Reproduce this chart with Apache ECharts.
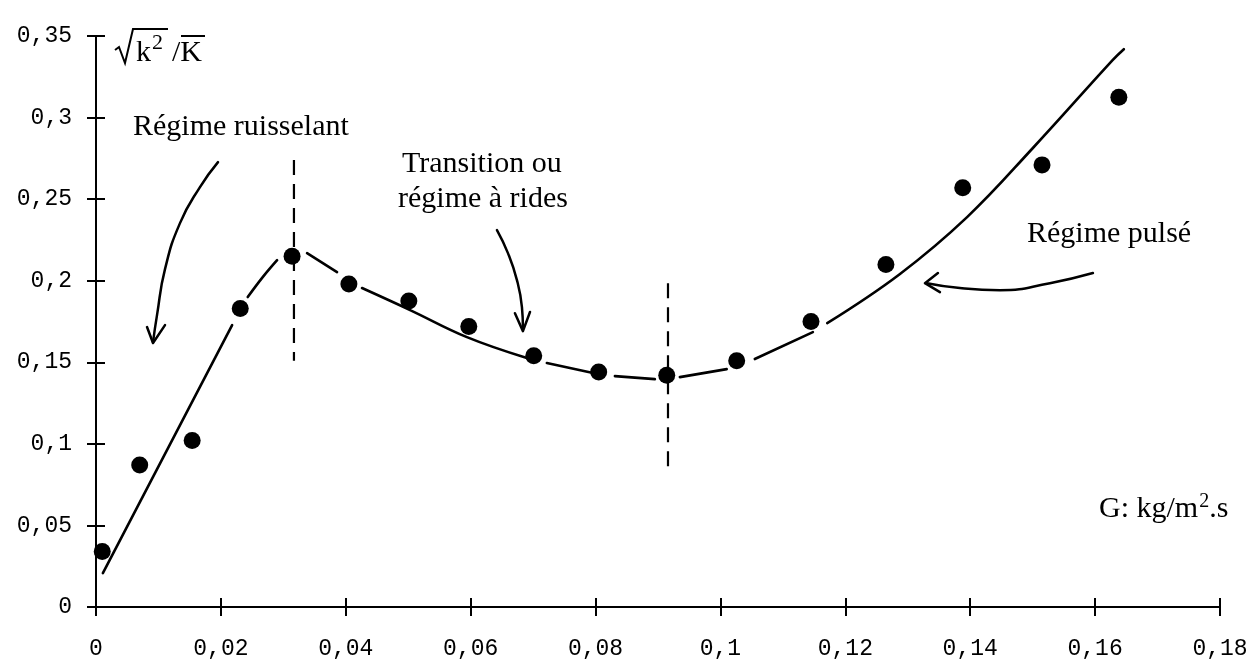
<!DOCTYPE html>
<html>
<head>
<meta charset="utf-8">
<script src="https://cdn.jsdelivr.net/npm/echarts@6/dist/echarts.min.js"></script>
<style>html,body{margin:0;padding:0;background:#fff}#c{width:1256px;height:667px}</style>
</head>
<body>
<div id="c"></div>
<script>
// ---- data ----
const xTickLabels = ['0','0,02','0,04','0,06','0,08','0,1','0,12','0,14','0,16','0,18'];
const yTickLabels = ['0','0,05','0,1','0,15','0,2','0,25','0,3','0,35'];

const gValues  = [0.001, 0.007, 0.0154, 0.0231, 0.0314, 0.0405, 0.0501, 0.0597, 0.0701, 0.0805, 0.0914, 0.1026, 0.1145, 0.1265, 0.1388, 0.1515, 0.1638];
const kValues  = [0.034, 0.087, 0.102, 0.183, 0.215, 0.198, 0.1875, 0.172, 0.154, 0.144, 0.142, 0.151, 0.175, 0.210, 0.257, 0.271, 0.3125];

// fitted curve, drawn in pieces (gaps as in the original drawing)
const curveSegA = [[0.0011,0.0208],[0.0218,0.1728]];
const curveSegB = [[0.0243,0.1900],[0.0267,0.2022],[0.0290,0.2126]];
const curveSegC = [[0.0338,0.2169],[0.0386,0.2053]];
const curveSegD = [[0.0426,0.1955],[0.0503,0.1820],[0.0594,0.1654],[0.0690,0.1526]];
const curveSegE = [[0.0722,0.1495],[0.0796,0.1434]];
const curveSegF = [[0.0831,0.1415],[0.0895,0.1397]];
const curveSegG = [[0.0935,0.1409],[0.1010,0.1458]];
const curveSegH = [[0.1055,0.1520],[0.1148,0.1685]];
const curveSegI = [[0.1171,0.1740],[0.1287,0.2040],[0.1395,0.2390],[0.1500,0.2812],[0.1628,0.3352],[0.1646,0.3419]];

// regime boundaries (dashed verticals)
const boundary1 = [[0.0317,0.274],[0.0317,0.151]];
const boundary2 = [[0.0916,0.1985],[0.0916,0.0827]];

// annotation arrows (data units)
const arrow1Path = [[0.01954,0.2727],[0.01665,0.2574],[0.01345,0.2353],[0.01105,0.2071],[0.00977,0.1789],[0.00913,0.1624]];
const arrow1Head = [[0.00817,0.1716],[0.00913,0.1618],[0.01105,0.1728]];
const arrow2Path = [[0.06421,0.2310],[0.06597,0.2169],[0.06741,0.2004],[0.06821,0.1838],[0.06837,0.1710]];
const arrow2Head = [[0.06709,0.1801],[0.06837,0.1691],[0.06950,0.1808]];
const arrow3Path = [[0.15965,0.2047],[0.15276,0.1985],[0.14476,0.1942],[0.13835,0.1955],[0.13307,0.1985]];
const arrow3Head = [[0.13483,0.2047],[0.13275,0.1985],[0.13515,0.1930]];

// ---- chart ----
const chart = echarts.init(document.getElementById('c'), null, {renderer:'canvas'});
const INK = '#000';
const serif = '"Liberation Serif","Times New Roman",serif';
const mono = '"Liberation Mono","DejaVu Sans Mono",monospace';

function lineSeries(data, opts) {
  return Object.assign({
    type:'line', data:data, symbol:'none', smooth:false, silent:true,
    lineStyle:{color:INK, width:2.5}, z:3, animation:false
  }, opts || {});
}

const curveSegments = [curveSegA,curveSegB,curveSegC,curveSegD,curveSegE,curveSegF,curveSegG,curveSegH,curveSegI];
const series = [];
curveSegments.forEach(s => series.push(lineSeries(s, {smooth:0.4, lineStyle:{color:INK,width:2.6,cap:'round'}})));
[boundary1, boundary2].forEach(s => series.push(lineSeries(s, {lineStyle:{color:INK,width:2.2,type:[15,9]}})));
[arrow1Path, arrow2Path, arrow3Path].forEach(s => series.push(lineSeries(s, {smooth:0.5, lineStyle:{color:INK,width:2.5,cap:'round'}})));
[arrow1Head, arrow2Head, arrow3Head].forEach(s => series.push(lineSeries(s, {lineStyle:{color:INK,width:2.5,cap:'round',join:'round'}})));
series.push({
  type:'scatter', data: gValues.map((g,i)=>[g,kValues[i]]),
  symbol:'circle', symbolSize:17, itemStyle:{color:INK, opacity:1}, z:5, silent:true, animation:false
});

const xBase = {type:'value', min:0, max:0.18, interval:0.02, splitLine:{show:false}, gridIndex:0, position:'bottom'};
const yBase = {type:'value', min:0, max:0.35, interval:0.05, splitLine:{show:false}, gridIndex:0, position:'left'};

chart.setOption({
  animation:false,
  backgroundColor:'#fff',
  grid:{left:96, right:36, top:36, bottom:60},
  xAxis:[
    Object.assign({}, xBase, {
      axisLine:{show:true, lineStyle:{color:INK, width:2}},
      axisTick:{show:true, inside:false, length:9, lineStyle:{color:INK, width:2}},
      axisLabel:{show:true, margin:30, color:INK, fontFamily:mono, fontSize:23,
        formatter:(v)=>xTickLabels[Math.round(v/0.02)]}
    }),
    Object.assign({}, xBase, {
      axisLine:{show:false}, axisLabel:{show:false},
      axisTick:{show:true, inside:true, length:9, lineStyle:{color:INK, width:2}}
    })
  ],
  yAxis:[
    Object.assign({}, yBase, {
      axisLine:{show:true, lineStyle:{color:INK, width:2}},
      axisTick:{show:true, inside:false, length:9, lineStyle:{color:INK, width:2}},
      axisLabel:{show:true, margin:24, color:INK, fontFamily:mono, fontSize:23,
        formatter:(v)=>yTickLabels[Math.round(v/0.05)]}
    }),
    Object.assign({}, yBase, {
      axisLine:{show:false}, axisLabel:{show:false},
      axisTick:{show:true, inside:true, length:9, lineStyle:{color:INK, width:2}}
    })
  ],
  series: series,
  graphic:[
    {type:'text', left:133, top:112, style:{text:'Régime ruisselant', font:'30px '+serif, fill:INK}},
    {type:'text', left:402, top:149, style:{text:'Transition ou', font:'30px '+serif, fill:INK}},
    {type:'text', left:398, top:184, style:{text:'régime à rides', font:'30px '+serif, fill:INK}},
    {type:'text', left:1027, top:219, style:{text:'Régime pulsé', font:'30px '+serif, fill:INK}},
    {type:'text', left:1099, top:492, style:{
      text:'{n|G: kg/m}{s|2}{n|.s}',
      rich:{
        n:{fontFamily:serif, fontSize:30, lineHeight:34, fill:INK, color:INK},
        s:{fontFamily:serif, fontSize:20, lineHeight:20, verticalAlign:'top', fill:INK, color:INK, padding:[0,0,0,1]}
      }}},
    // y-axis title: sqrt(k'^2)/K-bar
    {type:'polyline', shape:{points:[[115,50],[119,47],[125,63],[133,29],[168,29]]}, style:{stroke:INK, fill:null, lineWidth:2, lineJoin:'miter'}},
    {type:'text', left:136, top:38, style:{text:'k', font:'30px '+serif, fill:INK}},
    {type:'text', left:152, top:32, style:{text:'2', font:'22px '+serif, fill:INK}},
    {type:'text', left:172, top:38, style:{text:'/K', font:'30px '+serif, fill:INK}},
    {type:'line', shape:{x1:181, y1:36, x2:205, y2:36}, style:{stroke:INK, lineWidth:2}}
  ]
});
</script>
</body>
</html>
